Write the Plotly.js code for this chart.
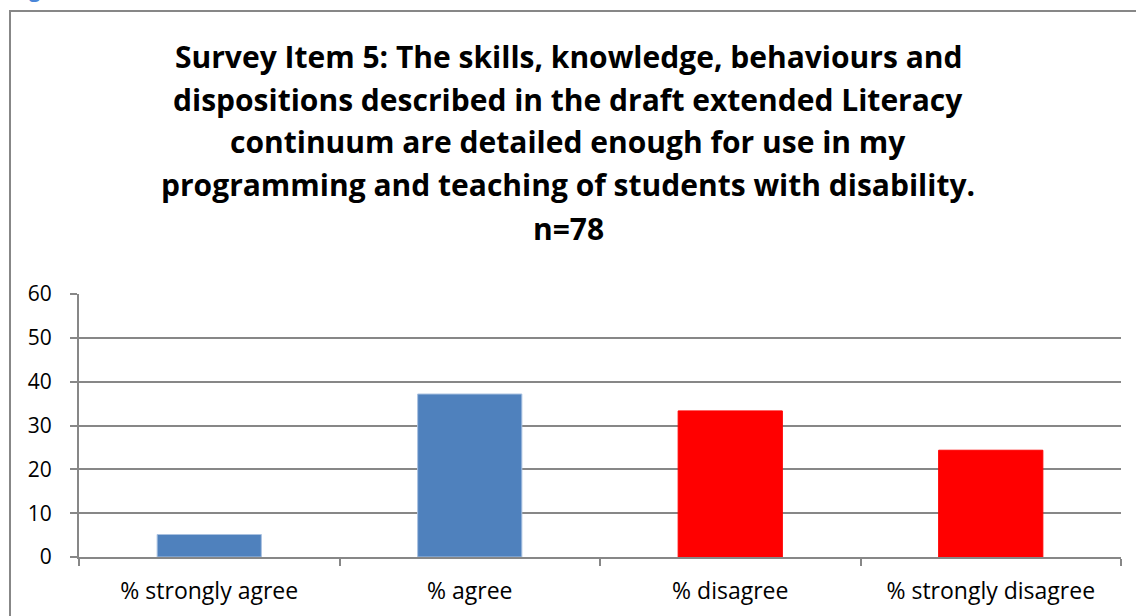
<!DOCTYPE html>
<html>
<head>
<meta charset="utf-8">
<script src="https://cdn.plot.ly/plotly-3.0.1.min.js"></script>
<style>
  html, body { margin: 0; padding: 0; background: #fff; }
  #chart { width: 1136px; height: 616px; }
</style>
</head>
<body>
<div id="chart"></div>
<script>
// responses to survey item 5 (n=78), in percent
const categories = ['% strongly agree', '% agree', '% disagree', '% strongly disagree'];
const percents = [5.13, 37.18, 33.33, 24.36];
const barColors = ['#4f81bd', '#4f81bd', '#ff0000', '#ff0000'];
const yTicks = [0, 10, 20, 30, 40, 50, 60];

const titleLines = [
  'Survey Item 5: The skills, knowledge, behaviours and',
  'dispositions described in the draft extended Literacy',
  'continuum are detailed enough for use in my',
  'programming and teaching of students with disability.',
  'n=78'
];

const font = '"Open Sans", Lato, sans-serif';

// plot area runs from y=294px (60) down to y=557px (0)
const plotTop = 294, plotBottom = 557;
const toPaperY = px => (plotBottom - px) / (plotBottom - plotTop);

const titleAnnotations = titleLines.map((line, i) => ({
  text: '<b>' + line + '</b>',
  xref: 'paper', yref: 'paper',
  x: (568 - 79) / 1042, y: toPaperY(56 + i * 43),
  xanchor: 'center', yanchor: 'middle',
  showarrow: false,
  font: {family: font, size: 30, color: '#000'}
}));

const trace = {
  type: 'bar',
  x: categories,
  y: percents,
  marker: {
    color: barColors,
    line: {width: 1, color: barColors.map(c => c === '#4f81bd' ? '#a9c1e0' : c)}
  },
  hoverinfo: 'x+y'
};

const layout = {
  width: 1136,
  height: 616,
  margin: {l: 79, r: 15, t: plotTop, b: 616 - plotBottom},
  paper_bgcolor: '#fff',
  plot_bgcolor: '#fff',
  showlegend: false,
  bargap: 0.6,
  font: {family: font, color: '#000'},
  xaxis: {
    type: 'category',
    showline: true,
    linecolor: '#878787',
    linewidth: 2,
    ticks: 'outside',
    tickson: 'boundaries',
    ticklen: 7,
    tickwidth: 2,
    tickcolor: '#878787',
    showgrid: false,
    tickfont: {family: font, size: 23, color: '#000'},
    ticklabelstandoff: 12
  },
  yaxis: {
    range: [0, 60],
    tickvals: yTicks,
    showline: true,
    linecolor: '#878787',
    linewidth: 2,
    ticks: 'outside',
    ticklen: 7,
    tickwidth: 2,
    tickcolor: '#878787',
    showgrid: true,
    gridcolor: '#878787',
    gridwidth: 2,
    zeroline: false,
    tickfont: {family: font, size: 21, color: '#000'},
    ticklabelstandoff: 14
  },
  shapes: [{
    type: 'rect',
    xref: 'paper', yref: 'paper',
    x0: (10 - 79) / 1042, x1: 1.2,
    y0: -0.5, y1: toPaperY(11),
    line: {color: '#878787', width: 2},
    fillcolor: 'rgba(0,0,0,0)',
    layer: 'below'
  }],
  annotations: titleAnnotations.concat([{
    text: '<b>Figure 5</b>',
    xref: 'paper', yref: 'paper',
    x: (10 - 79) / 1042, y: toPaperY(-10),
    xanchor: 'left', yanchor: 'middle',
    showarrow: false,
    font: {family: font, size: 20, color: '#4a86d8'}
  }])
};

Plotly.newPlot('chart', [trace], layout, {displayModeBar: false, staticPlot: true});
</script>
</body>
</html>
